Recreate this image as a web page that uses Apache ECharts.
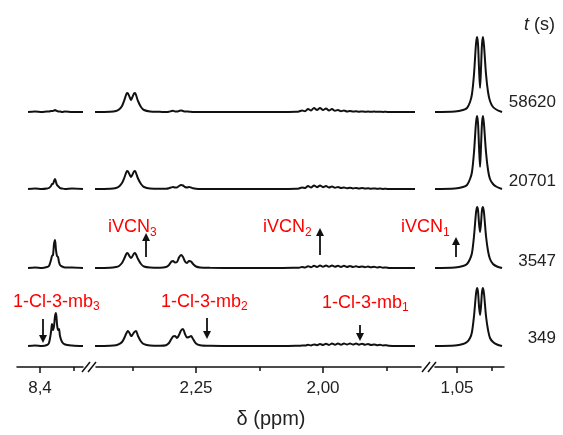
<!DOCTYPE html>
<html>
<head>
<meta charset="utf-8">
<script src="https://cdn.jsdelivr.net/npm/echarts@6/dist/echarts.min.js"></script>
<style>
html, body { margin: 0; padding: 0; background: #fff; }
#chartData { width: 563px; height: 435px; }
</style>
</head>
<body>
<div id="chartData"></div>
<script>
// times (s) for each trace, top to bottom
var rowNames = ['58620', '20701', '3547', '349'];

// left window (8,4 ppm)
var aromPpm = [8.4176, 8.4074, 8.3971, 8.3897, 8.3868, 8.3838, 8.3824, 8.3809, 8.3794, 8.3779,
    8.3765, 8.3750, 8.3735, 8.3721, 8.3706, 8.3676, 8.3632, 8.3529, 8.3368];
var aromRow1 = [0, 0.5, 0, 0.5, 0.5, 1, 1, 1, 1.5, 2, 1.5, 1, 0.5, 0.5, 0.5, 0, 0.5, 0, 0];
var aromRow2 = [0, 0.5, 0, 0.5, 1, 3, 5, 5, 8, 10, 7, 4, 3, 2, 1, 0.5, 0, 0.5, 0];
var aromRow3 = [0, 0.5, 0, 1, 2, 8, 12, 13, 24, 28, 18, 12, 11, 6, 3, 1.5, 0.5, 0.5, 0];
var aromRow4 = [0, 0.5, 0, 1, 3, 14, 22, 16, 20, 30, 33, 22, 16, 17, 10, 4, 1.5, 0.5, 0];

// middle window (2,45 - 1,81 ppm)
var midPpm = [2.4488, 2.4193, 2.4075, 2.4016, 2.3957, 2.3917, 2.3878, 2.3858, 2.3839, 2.3799,
    2.3780, 2.3760, 2.3721, 2.3701, 2.3681, 2.3642, 2.3583, 2.3524, 2.3406, 2.3209,
    2.3091, 2.3032, 2.2992, 2.2953, 2.2913, 2.2874, 2.2835, 2.2795, 2.2756, 2.2717,
    2.2677, 2.2638, 2.2598, 2.2559, 2.2500, 2.2421, 2.2224, 2.1634, 2.0846, 2.0532,
    2.0473, 2.0413, 2.0354, 2.0295, 2.0236, 2.0177, 2.0118, 2.0059, 2.0000, 1.9941,
    1.9882, 1.9823, 1.9764, 1.9705, 1.9646, 1.9587, 1.9528, 1.9469, 1.9410, 1.9350,
    1.9291, 1.9232, 1.9173, 1.9114, 1.9055, 1.8996, 1.8937, 1.8878, 1.8819, 1.8760,
    1.8701, 1.8583, 1.8189];
var midRow1 = [0, 0.3, 1, 2.5, 6, 11, 17, 19, 18.5, 14,
    12, 14, 18.5, 19, 17, 11, 5, 2, 0.5, 0.2,
    0, 0.3, 0.8, 1.2, 0.6, 0.5, 1, 1.5, 1, 0.5,
    0.5, 0.3, 0.2, 0, 0, 0, 0, 0, 0, 0.2,
    0.5, 1.5, 0.8, 3, 1.5, 4, 2, 4, 2, 3.5,
    1.5, 3, 1.2, 2, 0.8, 1.5, 0.5, 1, 0.4, 0.8,
    0.3, 0.6, 0.2, 0.5, 0.2, 0.4, 0.2, 0.3, 0.1, 0.2,
    0, 0, 0];
var midRow2 = [0, 0.3, 1, 2.5, 6, 10.5, 16, 18, 17.5, 13.5,
    12, 13.5, 17.5, 18, 16, 10.5, 5, 2, 0.5, 0.3,
    0.3, 0.8, 1.5, 2, 1.5, 1.5, 3, 4, 3.5, 2,
    1.5, 2, 1.5, 0.8, 0.3, 0, 0, 0, 0, 0.2,
    0.5, 1.5, 1, 3, 1.5, 3.5, 1.8, 3.5, 1.8, 3,
    1.5, 2.5, 1.2, 2, 1, 1.5, 0.8, 1.3, 0.6, 1.1,
    0.5, 1, 0.4, 0.8, 0.3, 0.6, 0.2, 0.4, 0.1, 0.2,
    0, 0, 0];
var midRow3 = [0, 0.3, 1, 2, 5, 9, 13.5, 15, 14.5, 11,
    10, 11, 14.5, 15, 13.5, 9, 4, 1.5, 0.5, 0.3,
    1, 3, 6, 7, 5.5, 6, 10.5, 13, 11, 6.5,
    5, 7, 6.5, 4, 1.5, 0.5, 0.2, 0, 0, 0.2,
    0.3, 1, 0.5, 1.8, 0.8, 2.2, 1, 2.5, 1.2, 2.5,
    1.2, 2.5, 1.2, 2.3, 1.1, 2.2, 1, 2, 1, 1.8,
    0.9, 1.6, 0.8, 1.4, 0.7, 1.2, 0.5, 0.9, 0.3, 0.5,
    0.1, 0, 0];
var midRow4 = [0, 0.3, 0.8, 1.8, 4, 7.5, 12, 14, 15, 12,
    10, 10.5, 13.5, 14.5, 15, 10, 4.5, 1.8, 0.5, 0.3,
    0.8, 3, 6.5, 9.5, 10, 8, 11, 15.5, 17, 12,
    8.5, 9, 10, 7, 2.5, 0.8, 0.2, 0, 0, 0.2,
    0.2, 0.5, 0.4, 1.2, 0.6, 1.6, 0.8, 2, 1, 2.2,
    1.1, 2.4, 1.2, 2.5, 1.3, 2.6, 1.4, 2.6, 1.4, 2.5,
    1.3, 2.3, 1.2, 2, 1, 1.6, 0.8, 1.2, 0.6, 0.8,
    0.3, 0, 0];

// right window (1,05 ppm)
var iprPpm = [1.0814, 1.0529, 1.0414, 1.0357, 1.0314, 1.0286, 1.0257, 1.0229, 1.0214, 1.0200,
    1.0186, 1.0171, 1.0157, 1.0143, 1.0129, 1.0114, 1.0086, 1.0057, 1.0029, 0.9986,
    0.9929, 0.9857];
var iprRow1 = [0, 0.5, 2, 4, 10, 18, 38, 68, 75, 68, 44, 24, 44, 68, 75, 66, 38, 20, 11, 5, 2, 0];
var iprRow2 = [0, 0.5, 2, 4, 10, 17, 37, 66, 73, 66, 43, 22, 43, 66, 73, 64, 37, 19, 10, 5, 2, 0];
var iprRow3 = [0, 0.5, 2, 4, 9, 15, 32, 55, 61, 58, 45, 36, 45, 58, 61, 55, 32, 17, 9, 4, 1.5, 0];
var iprRow4 = [0, 0.5, 2, 4, 8, 14, 30, 52, 58, 54, 40, 31, 40, 54, 58, 52, 30, 16, 8, 4, 1.5, 0];

// tick values
var aromMajor = [8.4], aromMinor = [8.35];
var midMajor = [2.25, 2.0], midMinor = [2.375, 2.125, 1.875];
var iprMajor = [1.05], iprMinor = [1.0];

// arrows: [ppm, panel, row, from, to] (heights above the row baseline)
var arrowMarks = [
    [8.3956, 0, 3, 27, 7],
    [2.3484, 1, 2, 11, 31],
    [2.0059, 1, 2, 13, 36],
    [2.2284, 1, 3, 28, 11],
    [1.9272, 1, 3, 21, 9],
    [1.0514, 2, 2, 11, 27]
];

// ---------------- layout ----------------
var rowOffsets = [255, 178, 99, 21];
var gridTop = 20, gridHeight = 347;
var fontName = 'Liberation Sans';
var red = '#ff0000';
var ink = '#111';

var panels = [
    {ppm: aromPpm, rows: [aromRow1, aromRow2, aromRow3, aromRow4], left: 17, width: 66,
        min: 8.3368, max: 8.4338, major: aromMajor, minor: aromMinor, dec: 1},
    {ppm: midPpm, rows: [midRow1, midRow2, midRow3, midRow4], left: 96, width: 325,
        min: 1.8071, max: 2.4469, major: midMajor, minor: midMinor, dec: 2},
    {ppm: iprPpm, rows: [iprRow1, iprRow2, iprRow3, iprRow4], left: 435, width: 69,
        min: 0.9829, max: 1.0814, major: iprMajor, minor: iprMinor, dec: 2}
];

var grids = [], xAxes = [], yAxes = [], series = [];

panels.forEach(function (p, gi) {
    grids.push({left: p.left, width: p.width, top: gridTop, height: gridHeight});
    xAxes.push({
        type: 'value', gridIndex: gi, inverse: true, min: p.min, max: p.max, position: 'bottom',
        axisLine: {show: true, onZero: false, lineStyle: {color: ink, width: 1.5}},
        axisTick: {show: true, length: 6, customValues: p.major, lineStyle: {color: ink, width: 1.5}},
        axisLabel: {
            show: true, customValues: p.major, margin: 13, fontSize: 17, color: '#222',
            fontFamily: fontName,
            formatter: function (v) { return v.toFixed(p.dec).replace('.', ','); }
        },
        splitLine: {show: false}
    });
    yAxes.push({type: 'value', gridIndex: gi, min: 0, max: gridHeight, show: false});
});

// minor ticks on their own axes
panels.forEach(function (p, gi) {
    xAxes.push({
        type: 'value', gridIndex: gi, inverse: true, min: p.min, max: p.max, position: 'bottom',
        axisLine: {show: false},
        axisTick: {show: true, length: 4, customValues: p.minor, lineStyle: {color: ink, width: 1.5}},
        axisLabel: {show: false},
        splitLine: {show: false}
    });
});

panels.forEach(function (p, gi) {
    p.rows.forEach(function (vals, ri) {
        var s = {
            type: 'line', xAxisIndex: gi, yAxisIndex: gi, symbol: 'none', smooth: 0.3,
            silent: true, clip: false,
            lineStyle: {color: ink, width: 2},
            data: p.ppm.map(function (x, i) { return [x, vals[i] + rowOffsets[ri]]; })
        };
        var marks = arrowMarks.filter(function (a) { return a[1] === gi && a[2] === ri; });
        if (marks.length) {
            s.markLine = {
                silent: true, animation: false,
                symbol: ['none', 'triangle'], symbolSize: 8,
                label: {show: false},
                lineStyle: {color: ink, width: 1.8, type: 'solid'},
                data: marks.map(function (a) {
                    return [{coord: [a[0], a[3] + rowOffsets[ri]]}, {coord: [a[0], a[4] + rowOffsets[ri]]}];
                })
            };
        }
        series.push(s);
    });
});

function redLabel(x, y, main, sub) {
    return {
        type: 'text', x: x, y: y, silent: true,
        style: {
            text: '{m|' + main + '}{s|' + sub + '}', align: 'left', verticalAlign: 'middle',
            rich: {
                m: {fontSize: 18, lineHeight: 22, fontFamily: fontName, fill: red},
                s: {fontSize: 12, lineHeight: 12, verticalAlign: 'bottom', fontFamily: fontName, fill: red}
            }
        }
    };
}

function sideLabel(y, txt) {
    return {
        type: 'text', x: 556, y: y, silent: true,
        style: {text: txt, align: 'right', verticalAlign: 'middle', fontSize: 17, fontFamily: fontName, fill: '#222'}
    };
}

function slash(x, y) {
    return {type: 'line', silent: true, shape: {x1: x, y1: y + 5, x2: x + 8, y2: y - 5},
        style: {stroke: ink, lineWidth: 1.5}};
}

var graphics = [
    redLabel(108, 227.5, 'iVCN', '3'),
    redLabel(263, 227.5, 'iVCN', '2'),
    redLabel(401, 227.5, 'iVCN', '1'),
    redLabel(13, 302, '1-Cl-3-mb', '3'),
    redLabel(161, 302, '1-Cl-3-mb', '2'),
    redLabel(322, 303, '1-Cl-3-mb', '1'),
    {
        type: 'text', x: 555, y: 25, silent: true,
        style: {
            text: '{i|t}{n| (s)}', align: 'right', verticalAlign: 'middle',
            rich: {
                i: {fontSize: 18, fontStyle: 'italic', fontFamily: fontName, fill: '#222'},
                n: {fontSize: 18, fontFamily: fontName, fill: '#222'}
            }
        }
    },
    {
        type: 'text', x: 271, y: 419, silent: true,
        style: {text: 'δ (ppm)', align: 'center', verticalAlign: 'middle', fontSize: 20, fontFamily: fontName, fill: '#222'}
    },
    slash(82, 367), slash(88, 367),
    slash(422, 367), slash(428, 367)
];
rowNames.forEach(function (name, i) {
    graphics.push(sideLabel([102, 181, 261, 338][i], name));
});

var myChart = echarts.init(document.getElementById('chartData'));
myChart.setOption({
    animation: false,
    backgroundColor: '#fff',
    grid: grids,
    xAxis: xAxes,
    yAxis: yAxes,
    series: series,
    graphic: graphics
});
</script>
</body>
</html>
